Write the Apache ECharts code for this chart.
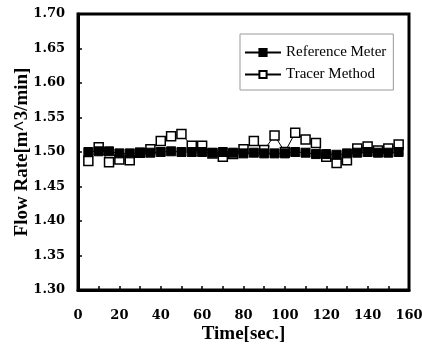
<!DOCTYPE html>
<html>
<head>
<meta charset="utf-8">
<script src="https://cdn.jsdelivr.net/npm/echarts@6/dist/echarts.min.js"></script>
<style>
  html, body { margin: 0; padding: 0; background: #fff; }
  #chart { width: 422px; height: 355px; }
</style>
</head>
<body>
<div id="chart"></div>
<script>
// Time in seconds
const times = [5, 10, 15, 20, 25, 30, 35, 40, 45, 50, 55, 60, 65, 70, 75, 80,
  85, 90, 95, 100, 105, 110, 115, 120, 125, 130, 135, 140, 145, 150, 155];

const referenceMeter = [1.500, 1.501, 1.501, 1.498, 1.498, 1.499, 1.499, 1.500,
  1.501, 1.500, 1.500, 1.500, 1.499, 1.500, 1.499, 1.498, 1.499, 1.498, 1.498,
  1.498, 1.500, 1.499, 1.497, 1.497, 1.496, 1.498, 1.499, 1.500, 1.499, 1.499, 1.500];

const tracerMethod = [1.487, 1.507, 1.485, 1.489, 1.488, 1.499, 1.504, 1.516,
  1.523, 1.526, 1.509, 1.509, 1.498, 1.493, 1.497, 1.504, 1.516, 1.503, 1.524,
  1.500, 1.528, 1.518, 1.513, 1.493, 1.484, 1.488, 1.505, 1.508, 1.502, 1.505, 1.511];

const serif = "'Liberation Serif', 'Times New Roman', serif";
const numFont = "'DejaVu Serif', serif";

const chart = echarts.init(document.getElementById("chart"));

const option = {
  animation: false,
  backgroundColor: "#fff",
  grid: {
    left: 78,
    right: 13,
    top: 14,
    bottom: 65,
    outerBoundsMode: "none",
    containLabel: false,
    show: true,
    borderColor: "#000",
    borderWidth: 3,
  },
  legend: {
    orient: "vertical",
    left: 240,
    top: 34,
    padding: [11, 7, 8, 4],
    itemGap: 7,
    itemWidth: 36,
    itemHeight: 9,
    borderColor: "#999",
    borderWidth: 1,
    data: ["Reference Meter", "Tracer Method"],
    textStyle: { fontFamily: serif, fontSize: 15, color: "#000" },
  },
  xAxis: {
    type: "value",
    min: 0,
    max: 160,
    interval: 10,
    name: "Time[sec.]",
    nameLocation: "middle",
    nameGap: 35,
    nameMoveOverlap: false,
    nameTextStyle: { fontFamily: serif, fontSize: 19, fontWeight: "bold", color: "#000" },
    axisLine: { show: true, lineStyle: { color: "#000", width: 3 } },
    axisTick: { inside: true, length: 4, lineStyle: { color: "#000", width: 1.5 } },
    splitLine: { show: false },
    axisLabel: {
      margin: 19,
      fontFamily: numFont,
      fontSize: 13,
      fontWeight: "bold",
      color: "#000",
      formatter: (v) => (v % 20 === 0 ? String(v) : ""),
    },
  },
  yAxis: {
    type: "value",
    min: 1.3,
    max: 1.7,
    interval: 0.05,
    name: "Flow Rate[m^3/min]",
    nameLocation: "middle",
    nameGap: 46,
    nameMoveOverlap: false,
    nameTextStyle: { fontFamily: serif, fontSize: 19, fontWeight: "bold", color: "#000" },
    axisLine: { show: true, lineStyle: { color: "#000", width: 3 } },
    axisTick: { inside: true, length: 4, lineStyle: { color: "#000", width: 1.5 } },
    splitLine: { show: false },
    axisLabel: {
      margin: 13,
      fontFamily: numFont,
      fontSize: 13,
      fontWeight: "bold",
      color: "#000",
      formatter: (v) => v.toFixed(2),
    },
  },
  series: [
    {
      name: "Tracer Method",
      type: "line",
      data: times.map((t, i) => [t, tracerMethod[i]]),
      symbol: "rect",
      symbolSize: 9,
      z: 2,
      lineStyle: { color: "#000", width: 1 },
      itemStyle: { color: "#fff", borderColor: "#000", borderWidth: 1.5 },
    },
    {
      name: "Reference Meter",
      type: "line",
      data: times.map((t, i) => [t, referenceMeter[i]]),
      symbol: "rect",
      symbolSize: 9,
      z: 3,
      lineStyle: { color: "#000", width: 1 },
      itemStyle: { color: "#000", borderColor: "#000", borderWidth: 1 },
    },
  ],
};

chart.setOption(option);
</script>
</body>
</html>
